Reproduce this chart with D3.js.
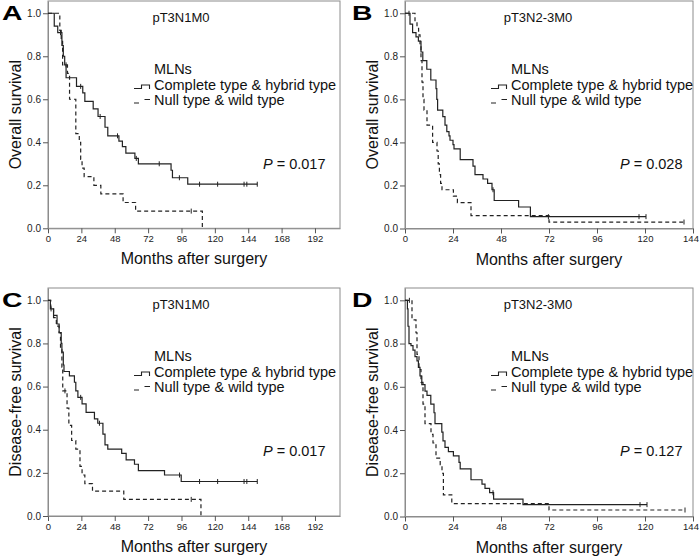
<!DOCTYPE html>
<html>
<head>
<meta charset="utf-8">
<script src="https://cdn.jsdelivr.net/npm/d3@7"></script>
<style>
  html, body { margin: 0; padding: 0; background: #fff; }
  svg { display: block; font-family: "Liberation Sans", Arial, sans-serif; }
</style>
</head>
<body>
<svg id="chart" width="700" height="560"></svg>
<script>
// ---------- DATA ----------
const xTicksLong = [0, 24, 48, 72, 96, 120, 144, 168, 192];
const xTicksShort = [0, 24, 48, 72, 96, 120, 144];
const yTicks = [0.0, 0.2, 0.4, 0.6, 0.8, 1.0];
const seriesNames = ["Complete type & hybrid type", "Null type & wild type"];
const legendTitle = "MLNs";
const panelLetters = ["A", "B", "C", "D"];
const panelTitles = ["pT3N1M0", "pT3N2-3M0", "pT3N1M0", "pT3N2-3M0"];
const yTitles = ["Overall survival", "Overall survival", "Disease-free survival", "Disease-free survival"];
const xTitle = "Months after surgery";
const pValues = ["0.017", "0.028", "0.017", "0.127"];

// Panel A (OS, pT3N1M0)
const aSolidT = [4.5, 7, 10, 11, 12, 13, 20.5, 25, 26.5, 32.5, 36, 41, 43, 51, 53.5, 56, 62.5, 65, 88.5, 89.5, 100.5];
const aSolidS = [0.94, 0.91, 0.85, 0.80, 0.76, 0.70, 0.66, 0.63, 0.59, 0.555, 0.52, 0.47, 0.43, 0.405, 0.38, 0.35, 0.325, 0.30, 0.27, 0.235, 0.205];
const aSolidC = [9, 23.5, 37.5, 50, 63.5, 80, 94.5, 109, 122, 141, 143, 150.5];
const aDashT = [8.5, 9.5, 10.5, 14, 15.5, 20, 22.5, 23.5, 24.5, 26, 33, 38, 54, 63, 111];
const aDashS = [0.92, 0.88, 0.76, 0.72, 0.60, 0.44, 0.40, 0.32, 0.28, 0.24, 0.20, 0.16, 0.12, 0.08, 0.0];
const aDashC = [13, 103];

// Panel B (OS, pT3N2-3M0)
const bSolidT = [2.5, 3.8, 5.5, 6.7, 8, 8.9, 10.9, 12.9, 15.5, 15.9, 16.3, 18.9, 20, 20.9, 22, 22.5, 24, 24.5, 27.6, 34, 35, 39, 41.3, 43.5, 44.6, 56.8, 62.7];
const bSolidS = [0.95, 0.91, 0.89, 0.87, 0.82, 0.78, 0.74, 0.69, 0.65, 0.60, 0.55, 0.52, 0.48, 0.45, 0.43, 0.41, 0.39, 0.37, 0.32, 0.29, 0.25, 0.23, 0.21, 0.18, 0.13, 0.10, 0.055];
const bSolidC = [2, 44, 71.7, 117, 120.5];
const bDashT = [5, 6, 6.8, 7.5, 8, 8.5, 9, 9.5, 11, 13.8, 16, 16.6, 17.2, 17.8, 18.5, 24.2, 26.2, 33, 72];
const bDashS = [0.96, 0.93, 0.90, 0.85, 0.78, 0.68, 0.60, 0.55, 0.48, 0.40, 0.36, 0.30, 0.25, 0.21, 0.18, 0.15, 0.12, 0.06, 0.03];
const bDashC = [139.5];

// Panel C (DFS, pT3N1M0)
const cSolidT = [1.7, 4, 6.5, 8, 9.5, 10, 11, 11.5, 15.4, 19, 20, 21.5, 24.5, 27.4, 33.4, 35.8, 39.5, 41, 43, 53, 56.2, 62.2, 65, 83.8, 95.8];
const cSolidS = [0.96, 0.93, 0.89, 0.85, 0.80, 0.76, 0.70, 0.67, 0.65, 0.62, 0.58, 0.55, 0.52, 0.48, 0.45, 0.43, 0.38, 0.33, 0.31, 0.29, 0.26, 0.24, 0.21, 0.19, 0.16];
const cSolidC = [2.2, 23.5, 37, 94.6, 109, 122, 141, 143, 150.5];
const cDashT = [2, 4, 6, 8, 9, 10, 10.6, 13.7, 15, 17, 20, 23, 24.5, 26.5, 32, 54.5, 110];
const cDashS = [0.96, 0.92, 0.88, 0.85, 0.77, 0.69, 0.58, 0.50, 0.42, 0.35, 0.31, 0.23, 0.19, 0.15, 0.115, 0.077, 0.0];
const cDashC = [12.2, 103];

// Panel D (DFS, pT3N2-3M0)
const dSolidT = [1.2, 1.5, 2, 3, 4, 5, 6, 6.7, 7.5, 8.4, 10, 11, 12.9, 14.5, 15, 18.4, 19, 20, 21.7, 24.2, 27, 27.6, 33, 38.5, 40, 42.3, 44.3, 59];
const dSolidS = [0.96, 0.88, 0.80, 0.79, 0.77, 0.74, 0.72, 0.69, 0.65, 0.61, 0.58, 0.56, 0.52, 0.48, 0.43, 0.39, 0.35, 0.32, 0.30, 0.28, 0.25, 0.22, 0.17, 0.15, 0.13, 0.11, 0.08, 0.055];
const dSolidC = [44, 117.5, 121];
const dDashT = [3.5, 5.5, 6, 7, 8, 9, 10, 13, 14, 15.5, 17.6, 18.5, 19.2, 23.4, 72];
const dDashS = [0.91, 0.85, 0.75, 0.68, 0.62, 0.52, 0.43, 0.38, 0.34, 0.27, 0.24, 0.20, 0.10, 0.06, 0.03];
const dDashC = [2.2, 140];

const panelSeries = [
  [[aSolidT, aSolidS, aSolidC], [aDashT, aDashS, aDashC]],
  [[bSolidT, bSolidS, bSolidC], [bDashT, bDashS, bDashC]],
  [[cSolidT, cSolidS, cSolidC], [cDashT, cDashS, cDashC]],
  [[dSolidT, dSolidS, dSolidC], [dDashT, dDashS, dDashC]]
];

// ---------- LAYOUT ----------
const layout = [
  { left: 48,  right: 340, top: 1,   bottom: 228.3, xMax: 210, ticks: xTicksLong,  letterX: 2 },
  { left: 405, right: 693, top: 1,   bottom: 228.5, xMax: 144, ticks: xTicksShort, letterX: 352 },
  { left: 48,  right: 340, top: 288, bottom: 516,   xMax: 210, ticks: xTicksLong,  letterX: 2 },
  { left: 405, right: 693, top: 288, bottom: 516.5, xMax: 144, ticks: xTicksShort, letterX: 352 }
];
const yMax = 1.057;
const lineColor = "#222";
const frameColor = "#8c8c8c";

const svg = d3.select("#chart");

function stepPoints(T, S, C) {
  const pts = [[0, 1]];
  T.forEach((t, i) => pts.push([t, S[i]]));
  const tEnd = Math.max(T[T.length - 1], C.length ? C[C.length - 1] : 0);
  if (tEnd > T[T.length - 1]) pts.push([tEnd, S[S.length - 1]]);
  return pts;
}
function survAt(T, S, c) {
  let s = 1;
  for (let i = 0; i < T.length; i++) { if (T[i] <= c) s = S[i]; }
  return s;
}

layout.forEach((L, pi) => {
  const g = svg.append("g");
  const x = d3.scaleLinear().domain([0, L.xMax]).range([L.left, L.right]);
  const y = d3.scaleLinear().domain([0, yMax]).range([L.bottom, L.top]);

  // frame
  g.append("rect")
    .attr("x", L.left).attr("y", L.top)
    .attr("width", L.right - L.left).attr("height", L.bottom - L.top)
    .attr("fill", "none").attr("stroke", frameColor).attr("stroke-width", 1);

  // axes
  const xa = g.append("g").attr("transform", `translate(0,${L.bottom})`)
    .call(d3.axisBottom(x).tickValues(L.ticks).tickSize(5).tickPadding(2).tickSizeOuter(0).tickFormat(d3.format("d")));
  const ya = g.append("g").attr("transform", `translate(${L.left},0)`)
    .call(d3.axisLeft(y).tickValues(yTicks).tickSize(5).tickPadding(2).tickSizeOuter(0).tickFormat(d3.format(".1f")));
  [xa, ya].forEach(a => {
    a.select(".domain").attr("stroke", frameColor);
    a.selectAll(".tick line").attr("stroke", "#555");
    a.selectAll(".tick text").attr("fill", "#222")
      .style("font-family", "'Liberation Sans', Arial, sans-serif");
  });
  ya.selectAll(".tick text").style("font-size", "10px");
  xa.selectAll(".tick text").style("font-size", "9.5px")
    .attr("dx", d => (d === L.xMax ? "-2.5" : null));

  // curves
  const line = d3.line().x(d => x(d[0])).y(d => y(d[1])).curve(d3.curveStepAfter);
  panelSeries[pi].forEach((ser, si) => {
    const [T, S, C] = ser;
    g.append("path").datum(stepPoints(T, S, C))
      .attr("d", line).attr("fill", "none")
      .attr("stroke", lineColor).attr("stroke-width", 1.2)
      .attr("stroke-dasharray", si === 1 ? "4,3" : null);
    g.selectAll(null).data(C).enter().append("line")
      .attr("x1", d => x(d)).attr("x2", d => x(d))
      .attr("y1", d => y(survAt(T, S, d)) - 2.5)
      .attr("y2", d => y(survAt(T, S, d)) + 2.5)
      .attr("stroke", lineColor).attr("stroke-width", 1);
  });

  // panel letter
  g.append("text").text(panelLetters[pi])
    .attr("transform", `translate(${L.letterX},${L.top + 19}) scale(1.35,1)`)
    .style("font-size", "21px").style("font-weight", "bold").attr("fill", "#000");

  // title
  g.append("text").text(panelTitles[pi])
    .attr("x", L.left + 133).attr("y", L.top + 21)
    .attr("text-anchor", "middle").style("font-size", "13px").attr("fill", "#111");

  // legend
  const lx = L.left + 106;
  g.append("text").text(legendTitle).attr("x", lx).attr("y", L.top + 73)
    .style("font-size", "14.5px").attr("fill", "#111");
  g.append("text").text(seriesNames[0]).attr("x", lx).attr("y", L.top + 88.5)
    .style("font-size", "14.5px").attr("fill", "#111");
  g.append("text").text(seriesNames[1]).attr("x", lx).attr("y", L.top + 103.5)
    .style("font-size", "14.5px").attr("fill", "#111");
  g.append("path")
    .attr("d", `M${L.left + 86},${L.top + 87.5} H${L.left + 93.5} V${L.top + 84} H${L.left + 101.5} V${L.top + 88}`)
    .attr("fill", "none").attr("stroke", lineColor).attr("stroke-width", 1.1);
  g.append("path")
    .attr("d", `M${L.left + 86},${L.top + 102} H${L.left + 91} M${L.left + 96.5},${L.top + 98.5} H${L.left + 102}`)
    .attr("fill", "none").attr("stroke", lineColor).attr("stroke-width", 1.1);

  // p value
  const pt = g.append("text").attr("x", L.left + 215).attr("y", L.top + 167.5)
    .style("font-size", "14.5px").attr("fill", "#111");
  pt.append("tspan").text("P").style("font-style", "italic");
  pt.append("tspan").text(" = " + pValues[pi]);

  // axis titles
  g.append("text").text(yTitles[pi])
    .attr("transform", `translate(${L.left - 27},${(L.top + L.bottom) / 2}) rotate(-90)`)
    .attr("text-anchor", "middle").style("font-size", "16px").attr("fill", "#111");
  g.append("text").text(xTitle)
    .attr("x", (L.left + L.right) / 2).attr("y", L.bottom + 36)
    .attr("text-anchor", "middle").style("font-size", "16px").attr("fill", "#111");
});
</script>
</body>
</html>
